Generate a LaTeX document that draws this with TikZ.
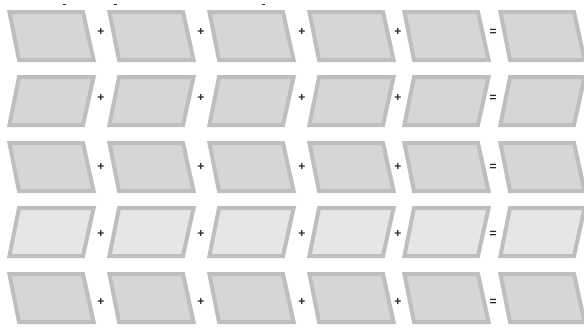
\documentclass[tikz,border=0pt]{standalone}
\usepackage{fontspec}
\setmainfont{Liberation Sans}
\definecolor{edgegray}{HTML}{BEBEBE}
\definecolor{fillgray}{HTML}{D6D6D6}
\definecolor{filllight}{HTML}{E6E6E6}
\definecolor{signgray}{HTML}{2A2A2A}
\tikzset{
  cellbox/.style={draw=edgegray, line width=4pt, line join=miter},
  signtext/.style={text=signgray, font=\fontsize{12}{12}\selectfont\bfseries, inner sep=0pt},
  tickmark/.style={draw=signgray, line width=1.3pt}
}
\begin{document}
\begin{tikzpicture}[x=1pt,y=-1pt]
\useasboundingbox (0,0) rectangle (584,327);
\clip (0,0) rectangle (584,327);
\fill[white] (0,0) rectangle (584,327);
% row parameters: top, slant direction (1 = "\" , -1 = "/"), fill colour, sign y
\foreach \t/\d/\fc/\sy [count=\r] in {10/1/fillgray/32, 75/-1/fillgray/98, 141/1/fillgray/167, 206/-1/filllight/234, 272/1/fillgray/302}{
  \foreach \x [count=\c] in {7,107,207,307,402,498}{
    \ifnum\d=1
      \path[cellbox, fill=\fc] (\x+2.4,\t+2) coordinate (c\r-\c) -- (\x+76,\t+2) -- (\x+86.6,\t+50) -- (\x+12,\t+50) -- cycle;
    \else
      \path[cellbox, fill=\fc] (\x+12,\t+2) coordinate (c\r-\c) -- (\x+86.6,\t+2) -- (\x+76,\t+50) -- (\x+2.4,\t+50) -- cycle;
    \fi
  }
  \node[signtext] (p\r-1) at (101,\sy) {+};
  \node[signtext] (p\r-2) at (201,\sy) {+};
  \node[signtext] (p\r-3) at (302,\sy) {+};
  \node[signtext] (p\r-4) at (398,\sy) {+};
  \node[signtext] (e\r) at (493,\sy) {=};
}
% small marks at the top edge
\coordinate (m1a) at (62.5,4.5); \coordinate (m1b) at (65.5,4.5);
\coordinate (m2a) at (113.5,4.5); \coordinate (m2b) at (116.5,4.5);
\coordinate (m3a) at (261.5,4.5); \coordinate (m3b) at (264.5,4.5);
\draw[tickmark] (m1a) -- (m1b);
\draw[tickmark] (m2a) -- (m2b);
\draw[tickmark] (m3a) -- (m3b);
\end{tikzpicture}
\end{document}
